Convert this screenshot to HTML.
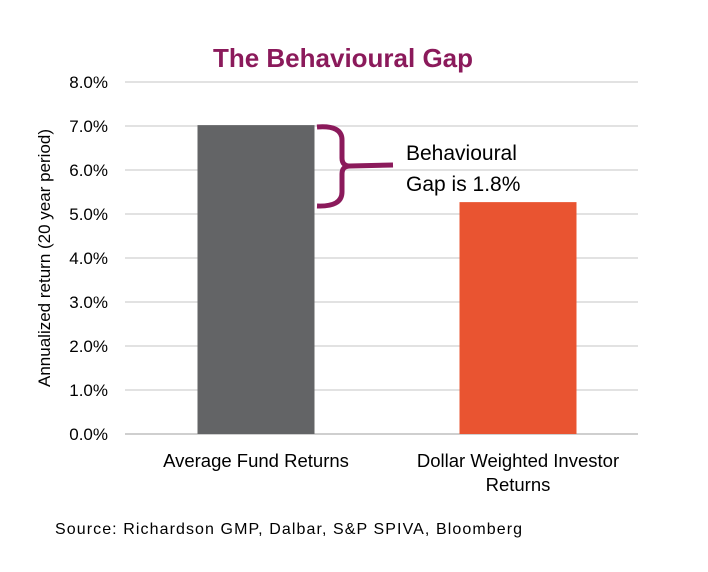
<!DOCTYPE html>
<html><head><meta charset="utf-8"><style>
body{margin:0;background:#fff;}
svg{display:block;font-family:"Liberation Sans",sans-serif;}
</style></head><body>
<svg id="c" width="708" height="572">
<text x="343" y="67" text-anchor="middle" font-size="26" font-weight="bold" fill="#8B1A5B">The Behavioural Gap</text>
<text transform="translate(50,258) rotate(-90)" text-anchor="middle" font-size="17" fill="#000">Annualized return (20 year period)</text>
<g id="grid"></g><g id="bars"></g>
<path d="M317,127 Q342,125 342,140 L342,158 Q342,166 350,166 L393,165 M350,166 Q342,166 342,174 L342,192 Q342,207 317,206" fill="none" stroke="#8B1A5B" stroke-width="5"/>
<text x="406" y="160" font-size="21" fill="#000">Behavioural</text>
<text x="406" y="191" font-size="21" fill="#000">Gap is 1.8%</text>
<text x="55" y="534" font-size="16" textLength="467" fill="#000">Source: Richardson GMP, Dalbar, S&amp;P SPIVA, Bloomberg</text>
</svg>
<script>
const categories=[["Average Fund Returns"],["Dollar Weighted Investor","Returns"]];
const values=[7.02,5.27];
const ticks=[0,1,2,3,4,5,6,7,8];
const colors=["#636466","#E95431"];
const NS="http://www.w3.org/2000/svg";
const x0=125,x1=638,yTop=82,yBot=434,yMax=8;
function y(v){return yBot-(v/yMax)*(yBot-yTop);}
function mk(t,a,p){const e=document.createElementNS(NS,t);for(const k in a)e.setAttribute(k,a[k]);p.appendChild(e);return e;}
const g=document.getElementById('grid'),b=document.getElementById('bars');
ticks.forEach(t=>{
 const l=mk('line',{x1:x0,x2:x1,y1:y(t),y2:y(t),stroke:t===0?'#bfbfbf':'#d9d9d9','stroke-width':1.5},g);
 
 
 const tx=mk('text',{x:108,y:y(t)+6,'text-anchor':'end','font-size':17},g);
 tx.textContent=t.toFixed(1)+'%';
 
 
});
const bw=117;
function bx(i){return 256+i*262;}
values.forEach((v,i)=>{
 const cx=bx(i);
 const r=mk('rect',{x:cx-bw/2,y:y(v),width:bw,height:yBot-y(v),fill:colors[i]},b);
 
 
 categories[i].forEach((s,j)=>{
  const t=mk('text',{x:cx,y:467+j*24,'text-anchor':'middle','font-size':18.5},b);
  t.textContent=s;
  
  
 });
});
</script>
</body></html>
